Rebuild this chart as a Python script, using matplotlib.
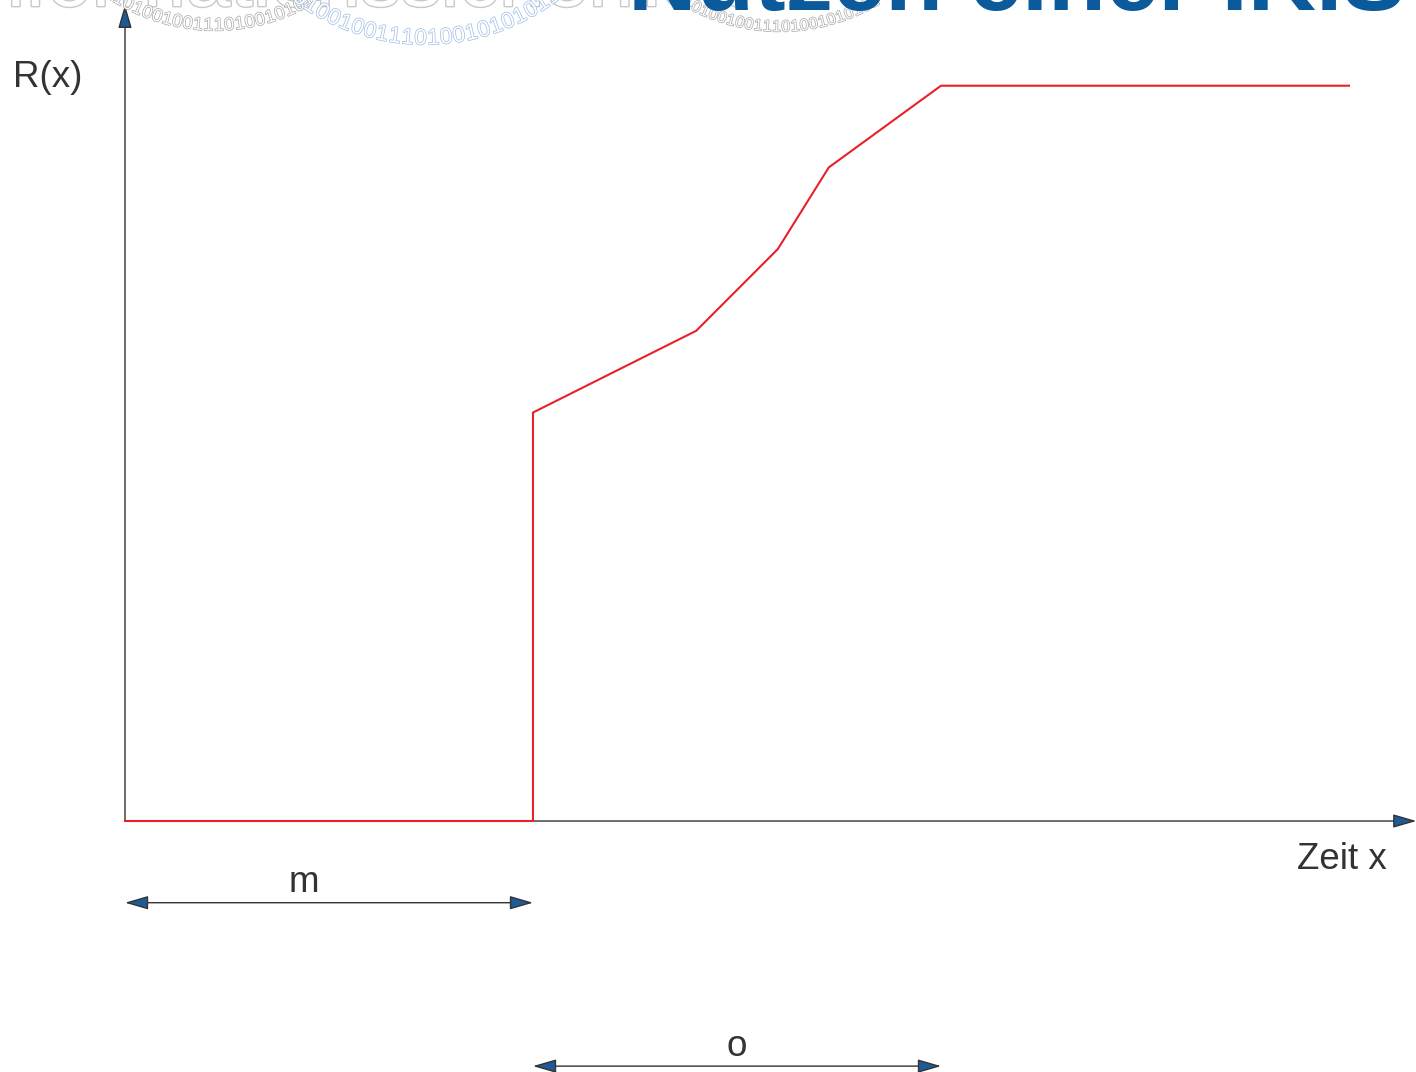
import numpy as np
import matplotlib.pyplot as plt
import matplotlib.patheffects as pe

# Nutzenkurve R(x)
zeit = [0, 4, 4, 5.6, 6.4, 6.9, 8, 12]
nutzen = [0, 0, 5, 6, 7, 8, 9, 9]
m_bereich = [0, 4]
o_bereich = [4, 8]

titel = "Nutzen einer IKIS"
binaer = "1101001001110100101010110100100111010010101"

fig = plt.figure(figsize=(14.16, 10.72), dpi=100)
ax = fig.add_axes([0, 0, 1, 1])
ax.set_xlim(-1.2255, 12.657)
ax.set_ylim(-3.072, 10.049)
ax.axis("off")

blau = "#1f5a96"
font = "Liberation Sans"


def bogen(cx, cy, r, x0, x1, farbe, groesse):
    # Ziffern entlang eines Kreisbogens (Pixelkoordinaten, y nach unten)
    a0 = np.degrees(np.arccos((x0 - cx) / r))
    a1 = np.degrees(np.arccos((x1 - cx) / r))
    schritt = np.degrees(groesse * 1.389 * 0.58 / r)
    winkel = np.arange(a0, a1, -schritt)
    for i, w in enumerate(winkel):
        px = cx + r * np.cos(np.radians(w))
        py = cy + r * np.sin(np.radians(w))
        fig.text(px / 1416, 1 - py / 1072, binaer[i % len(binaer)],
                 fontsize=groesse, family=font, color="white",
                 rotation=90 - w, ha="center", va="center", zorder=2,
                 path_effects=[pe.withStroke(linewidth=1.0, foreground=farbe)])


# Hintergrundtext (oben abgeschnitten)
fig.text(-0.03, 1 - 6 / 1072, "Informationssicherheit", fontsize=58,
         family=font, color="white", va="baseline", zorder=1,
         path_effects=[pe.withStroke(linewidth=2.0, foreground="#c8c8c8")])
bogen(215, -162, 188, 110, 330, "#a8a8a8", 13)
bogen(425, -176, 215, 280, 570, "#9dbde8", 16)
bogen(780, -162, 189, 680, 880, "#a8a8a8", 11.5)
fig.text(628 / 1416, 1 - 10 / 1072, titel, fontsize=68, family=font,
         weight="bold", color="#0a5a9c", va="baseline", zorder=3)

# Achsen mit Pfeilspitzen
pfeil = dict(arrowstyle="-|>,head_length=1.2,head_width=0.35", fc=blau,
             ec="#333333", lw=1, mutation_scale=12, shrinkA=0, shrinkB=0)
ax.annotate("", xy=(12.66, 0), xytext=(0, 0), arrowprops=pfeil)
ax.annotate("", xy=(0, 9.99), xytext=(0, 0), arrowprops=pfeil)

# Kurve
ax.plot(zeit, nutzen, color="#e8202a", lw=1.5, zorder=4)

ax.text(-1.1, 9.1, "R(x)", fontsize=26.5, family=font, color="#333333",
        ha="left", va="center")
ax.text(11.93, -0.47, "Zeit x", fontsize=26.5, family=font, color="#333333",
        ha="center", va="center")

# Bemaßungspfeile
mass = dict(arrowstyle="<|-|>,head_length=1.2,head_width=0.35", fc=blau,
            ec="#333333", lw=1, mutation_scale=12, shrinkA=0, shrinkB=0)
ax.annotate("", xy=(m_bereich[1], -1.0), xytext=(m_bereich[0], -1.0),
            arrowprops=mass)
ax.text(m_bereich[0] + 1.75, -0.75, "m", fontsize=26.5, family=font,
        color="#333333", ha="center", va="center")
ax.annotate("", xy=(o_bereich[1], -3.0), xytext=(o_bereich[0], -3.0),
            arrowprops=mass)
ax.text(np.mean(o_bereich), -2.76, "o", fontsize=26.5, family=font,
        color="#333333", ha="center", va="center")

fig.savefig("out.png", dpi=100)
